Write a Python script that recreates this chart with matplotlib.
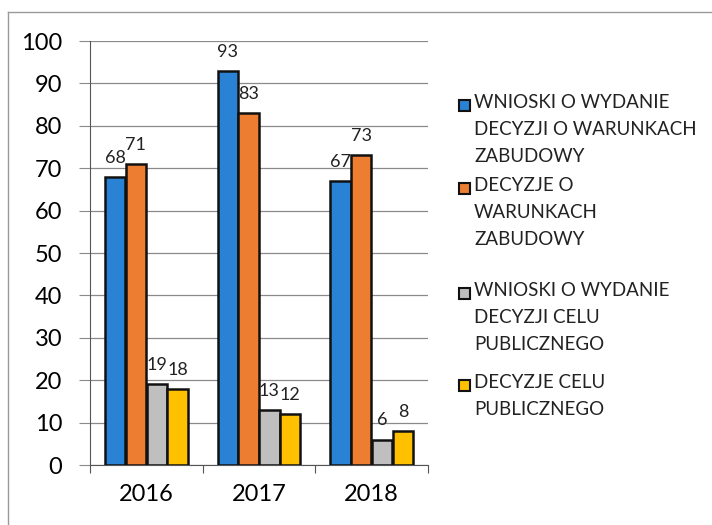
import matplotlib
matplotlib.use("Agg")
import matplotlib.pyplot as plt
import numpy as np
from matplotlib.lines import Line2D
from matplotlib.patches import Rectangle

years = ["2016", "2017", "2018"]
series_names = [
    "WNIOSKI O WYDANIE\nDECYZJI O WARUNKACH\nZABUDOWY",
    "DECYZJE O\nWARUNKACH\nZABUDOWY",
    "WNIOSKI O WYDANIE\nDECYZJI CELU\nPUBLICZNEGO",
    "DECYZJE CELU\nPUBLICZNEGO",
]
wnioski_wz = [68, 93, 67]
decyzje_wz = [71, 83, 73]
wnioski_cp = [19, 13, 6]
decyzje_cp = [18, 12, 8]
colors = ["#2a82d4", "#ed7d31", "#bfbfbf", "#ffc000"]

plt.rcParams['font.family'] = ['Lato', 'DejaVu Sans']

fig = plt.figure(figsize=(7.12, 5.25), dpi=100)
# partial frame (top and left edges of the scanned chart box)
fig.add_artist(Line2D([8 / 712, 1.0], [1 - 12 / 525] * 2, transform=fig.transFigure,
                      color="#9a9a9a", linewidth=1.0))
fig.add_artist(Line2D([8 / 712] * 2, [0, 1 - 12 / 525], transform=fig.transFigure,
                      color="#9a9a9a", linewidth=1.0))

ax = fig.add_axes([90 / 712, 1 - 465 / 525, (428 - 90) / 712, (465 - 41) / 525])

data = [wnioski_wz, decyzje_wz, wnioski_cp, decyzje_cp]
x = np.arange(len(years))
w = 0.185
offsets = [-1.5, -0.5, 0.5, 1.5]
for vals, off, c in zip(data, offsets, colors):
    bars = ax.bar(x + off * w, vals, width=w * 0.97, color=c, edgecolor="#111111",
                  linewidth=1.8, zorder=3)
    for b, v in zip(bars, vals):
        ax.annotate(str(v), (b.get_x() + b.get_width() / 2, v), xytext=(0, 8),
                    textcoords="offset points", ha="center", va="bottom",
                    fontsize=13, color="#222222", zorder=4)

ax.set_ylim(0, 100)
ax.set_xlim(-0.5, 2.5)
ax.set_yticks(range(0, 101, 10))
ax.yaxis.grid(True, color="#8a8a8a", linewidth=0.9, zorder=0)
ax.set_axisbelow(True)
ax.set_xticks([-0.5, 0.5, 1.5, 2.5])
ax.set_xticklabels([])
ax.set_xticks(x, minor=True)
ax.set_xticklabels(years, minor=True, fontsize=17)
ax.tick_params(axis="x", which="minor", length=0, pad=14)
ax.tick_params(axis="x", which="major", length=6, direction="out", color="#555555")
ax.tick_params(axis="y", length=8, color="#8a8a8a", labelsize=17, pad=12)
for s in ["top", "right"]:
    ax.spines[s].set_visible(False)
ax.spines["left"].set_color("#555555")
ax.spines["bottom"].set_color("#555555")

# manual legend with markers aligned to first text line
first_line_y = [105, 188, 293, 385]
for c, name, yp in zip(colors, series_names, first_line_y):
    fig.add_artist(Rectangle((459 / 712, 1 - (yp + 6) / 525), 11 / 712, 11 / 525,
                             transform=fig.transFigure, facecolor=c,
                             edgecolor="#111111", linewidth=1.5))
    fig.text(474 / 712, 1 - (yp - 11) / 525, name, ha="left", va="top",
             fontsize=13.5, color="#222222", linespacing=1.72)

fig.savefig("out.png", dpi=100)
